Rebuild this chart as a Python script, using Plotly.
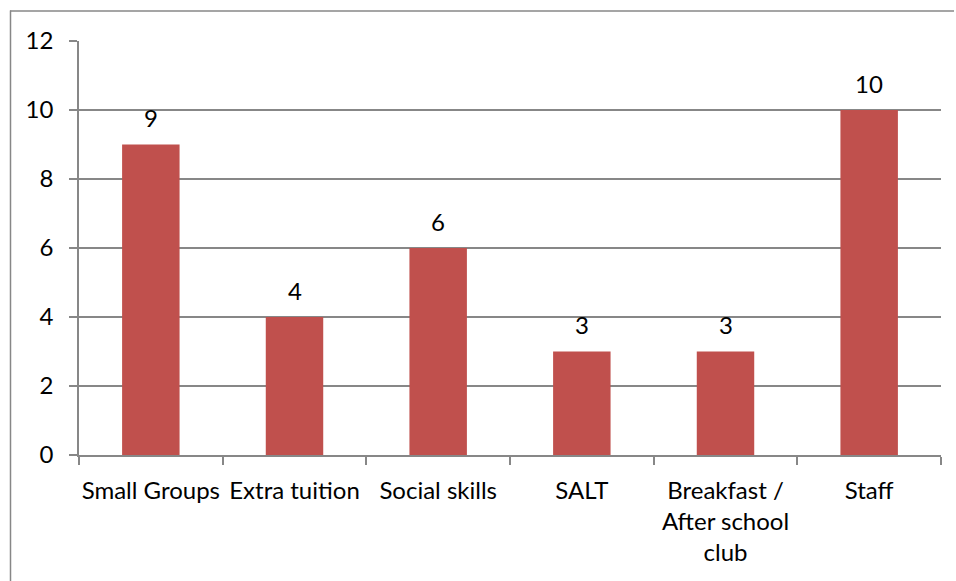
import plotly.graph_objects as go

# Support types and how many times each was mentioned
categories = ["Small Groups", "Extra tuition", "Social skills", "SALT",
              "Breakfast /<br>After school<br>club", "Staff"]
counts = [9, 4, 6, 3, 3, 10]
y_ticks = [0, 2, 4, 6, 8, 10, 12]

BAR_COLOR = "#C0504D"
GRID_COLOR = "#878787"
FONT = dict(family="Lato", size=24, color="#000000")

fig = go.Figure(
    go.Bar(
        x=categories,
        y=counts,
        marker=dict(color=BAR_COLOR, line=dict(width=0)),
        hoverinfo="x+y",
    )
)

# Value labels sitting above each bar
for cat, val in zip(categories, counts):
    fig.add_annotation(
        x=cat, y=val, text=str(val), showarrow=False,
        yanchor="middle", yshift=27, font=FONT,
    )

fig.update_layout(
    width=956, height=581,
    margin=dict(l=79, r=15, t=41, b=126, autoexpand=False),
    paper_bgcolor="white", plot_bgcolor="white",
    font=FONT,
    bargap=0.6,
    showlegend=False,
    shapes=[
        # chart frame (top and left edges)
        dict(type="line", xref="paper", yref="paper",
             x0=-69 / 862, x1=875 / 862, y0=1 + 30 / 414, y1=1 + 30 / 414,
             line=dict(color=GRID_COLOR, width=1.5)),
        dict(type="line", xref="paper", yref="paper",
             x0=-68.5 / 862, x1=-68.5 / 862, y0=1 + 30.5 / 414, y1=-1.2,
             line=dict(color=GRID_COLOR, width=1.5)),
    ],
)

fig.update_xaxes(
    type="category",
    showline=True, linecolor=GRID_COLOR, linewidth=1.5,
    ticks="outside", tickson="boundaries", ticklen=8,
    tickcolor=GRID_COLOR, tickwidth=1.5,
    showgrid=False,
    tickfont=FONT,
    tickangle=0,
    automargin=False,
    ticklabelstandoff=13,
)
fig.update_yaxes(
    range=[0, 12], tickvals=y_ticks,
    showline=True, linecolor=GRID_COLOR, linewidth=1.5,
    ticks="outside", ticklen=8, tickcolor=GRID_COLOR, tickwidth=1.5,
    showgrid=True, gridcolor=GRID_COLOR, gridwidth=1.5,
    zeroline=False,
    tickfont=FONT,
    automargin=False,
    ticklabelstandoff=11,
)

fig.write_html("out.html")
